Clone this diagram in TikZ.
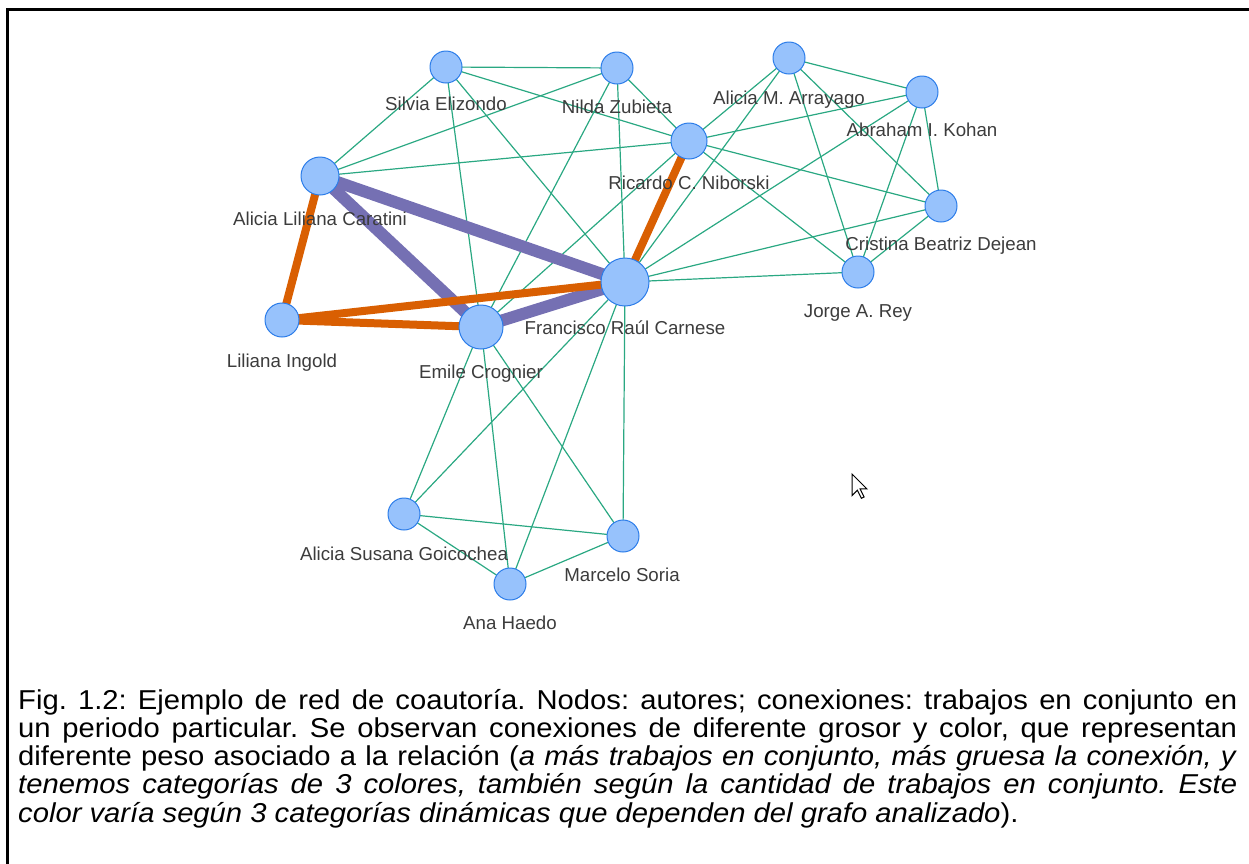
\documentclass[tikz,border=0pt]{standalone}
\usepackage{fontspec}
\setmainfont{Liberation Sans}
\newfontfamily\lblfont{Liberation Sans}
\newfontfamily\capfont[FakeStretch=1.07]{Liberation Sans}
\usetikzlibrary{backgrounds}
\definecolor{nodefill}{HTML}{97C2FC}
\definecolor{nodeborder}{HTML}{2B7CE9}
\definecolor{edgegreen}{HTML}{2AA882}
\definecolor{edgepurple}{HTML}{7570B3}
\definecolor{edgeorange}{HTML}{D95F02}
\definecolor{lblgray}{HTML}{3C3C3C}
\tikzset{
  author/.style={circle, fill=nodefill, draw=nodeborder, line width=1pt, inner sep=0pt},
  lbl/.style={anchor=base, inner sep=0pt, text=lblgray, font=\lblfont\fontsize{18.7}{20}\selectfont},
  thinedge/.style={draw=edgegreen, line width=1.2pt},
  purpleedge/.style={draw=edgepurple, line width=12pt},
  orangeedge/.style={draw=edgeorange, line width=8pt},
  frameline/.style={line width=3pt, black},
  capline/.style={anchor=base west, inner sep=0pt, font=\capfont\fontsize{27.3}{28.3}\selectfont\frenchspacing},
}
\begin{document}
\begin{tikzpicture}[x=1pt,y=-1pt]
\useasboundingbox (0,0) rectangle (1249,863);
% frame
\draw[frameline] (7.5,880) -- (7.5,9.5) -- (1260,9.5);

% nodes
\node[author, minimum size=32pt] (S) at (446,67) {};
\node[author, minimum size=32pt] (N) at (617,68) {};
\node[author, minimum size=32pt] (A) at (789,58) {};
\node[author, minimum size=32pt] (K) at (922,92) {};
\node[author, minimum size=36pt] (R) at (689,141) {};
\node[author, minimum size=38pt] (C) at (320,176) {};
\node[author, minimum size=32pt] (D) at (941,206) {};
\node[author, minimum size=32pt] (J) at (858,272) {};
\node[author, minimum size=48pt] (F) at (625,282) {};
\node[author, minimum size=34pt] (L) at (282,320) {};
\node[author, minimum size=44pt] (E) at (481,327) {};
\node[author, minimum size=32pt] (G) at (404,514) {};
\node[author, minimum size=32pt] (M) at (623,536) {};
\node[author, minimum size=32pt] (H) at (510,584) {};

% edges
\begin{scope}[on background layer]
\foreach \a/\b in {S/N,S/C,S/R,S/E,S/F,N/C,N/R,N/F,N/E,C/R,R/A,R/K,R/D,R/J,R/E,F/A,F/K,F/D,F/J,A/K,A/J,A/D,K/D,K/J,D/J,G/E,G/F,G/M,G/H,H/E,H/F,H/M,M/E,M/F}
  \draw[thinedge] (\a.center) -- (\b.center);
\draw[purpleedge] (C.center) -- (F.center);
\draw[purpleedge] (C.center) -- (E.center);
\draw[purpleedge] (E.center) -- (F.center);
\draw[orangeedge] (C.center) -- (L.center);
\draw[orangeedge] (L.center) -- (F.center);
\draw[orangeedge] (L.center) -- (E.center);
\draw[orangeedge] (R.center) -- (F.center);
\end{scope}

% labels
\node[lbl] (Slab) at (446,110.5) {Silvia Elizondo};
\node[lbl] (Nlab) at (617,113.5) {Nilda Zubieta};
\node[lbl] (Alab) at (789,104.5) {Alicia M. Arrayago};
\node[lbl] (Klab) at (922,136.5) {Abraham I. Kohan};
\node[lbl] (Rlab) at (689,189.5) {Ricardo C. Niborski};
\node[lbl] (Clab) at (320,225.5) {Alicia Liliana Caratini};
\node[lbl] (Dlab) at (941,250.5) {Cristina Beatriz Dejean};
\node[lbl] (Jlab) at (858,317.5) {Jorge A. Rey};
\node[lbl] (Flab) at (625,334.5) {Francisco Raúl Carnese};
\node[lbl] (Llab) at (282,367.5) {Liliana Ingold};
\node[lbl] (Elab) at (481,378.5) {Emile Crognier};
\node[lbl] (Glab) at (404,560.5) {Alicia Susana Goicochea};
\node[lbl] (Mlab) at (622,581.5) {Marcelo Soria};
\node[lbl] (Hlab) at (510,629.5) {Ana Haedo};

% mouse pointer
\draw[fill=white, line width=1pt, line join=miter] (852,474) -- ++(0,21.6) -- ++(5.4,-5.4) -- ++(4.05,8.1) -- ++(2.7,-1.35) -- ++(-4.05,-8.1) -- ++(6.75,0) -- cycle;

% caption
\node[capline] (cap1) at (18,709) {\makebox[1219pt][s]{Fig. 1.2: Ejemplo de red de coautoría. Nodos: autores; conexiones: trabajos en conjunto en}};
\node[capline] (cap2) at (18,737.3) {\makebox[1219pt][s]{un periodo particular. Se observan conexiones de diferente grosor y color, que representan}};
\node[capline] (cap3) at (18,765.6) {\makebox[1219pt][s]{diferente peso asociado a la relación (\textit{a más trabajos en conjunto, más gruesa la conexión, y}}};
\node[capline] (cap4) at (18,793.9) {\makebox[1219pt][s]{\textit{tenemos categorías de 3 colores, también según la cantidad de trabajos en conjunto. Este}}};
\node[capline] (cap5) at (18,822.2) {\textit{color varía según 3 categorías dinámicas que dependen del grafo analizado}).};
\end{tikzpicture}
\end{document}
